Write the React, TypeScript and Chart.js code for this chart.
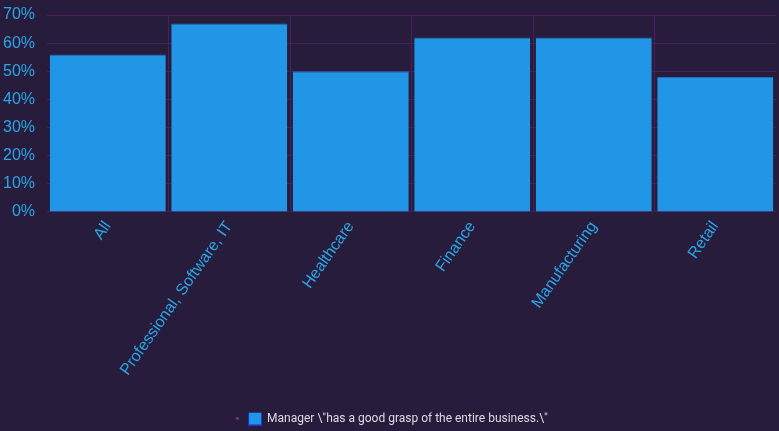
import React, { useEffect, useRef } from "react";
import { Chart, registerables } from "chart.js";

Chart.register(...registerables);

const categories = ["All", "Professional, Software, IT", "Healthcare", "Finance", "Manufacturing", "Retail"];
const values = [56, 67, 50, 62, 62, 48];
const seriesLabel = 'Manager \\"has a good grasp of the entire business.\\"';
const yTicks = [0, 10, 20, 30, 40, 50, 60, 70];

const gridColor = "#4a1f5c";

function makeBox(size: number, fill: string, stroke: string) {
  const c = document.createElement("canvas");
  c.width = size;
  c.height = size;
  const g = c.getContext("2d")!;
  g.fillStyle = stroke;
  g.fillRect(0, 0, size, size);
  g.fillStyle = fill;
  g.fillRect(1, 1, size - 2, size - 2);
  return c;
}

function makeDot() {
  const c = document.createElement("canvas");
  c.width = 3;
  c.height = 3;
  const g = c.getContext("2d")!;
  g.fillStyle = "rgba(150,60,150,0.5)";
  g.fillRect(0, 0, 3, 3);
  g.fillStyle = "#9a3c9a";
  g.fillRect(1, 1, 1, 1);
  return c;
}

const legendShift = {
  id: "legendShift",
  afterLayout(chart: any) {
    const lg = chart.legend;
    if (lg) {
      lg.top += 3.5;
      lg.bottom += 3.5;
    }
  },
};

export default function App() {
  const ref = useRef<HTMLCanvasElement>(null);
  useEffect(() => {
    document.body.style.margin = "0";
    const ctx = ref.current!;
    const boxImg = makeBox(14, "#2196e6", "#1c2fcf");
    const dotImg = makeDot();
    const chart = new Chart(ctx, {
      type: "bar",
      plugins: [legendShift],
      data: {
        labels: categories,
        datasets: [
          {
            label: seriesLabel,
            data: values,
            backgroundColor: "#2196e6",
            borderColor: "#1f6fb3",
            borderWidth: { top: 1, left: 0, right: 0, bottom: 1 } as any,
            barPercentage: 0.955,
            categoryPercentage: 1,
          },
        ],
      },
      options: {
        animation: false,
        responsive: false,
        maintainAspectRatio: false,
        layout: { padding: { top: 15, right: 3, bottom: 0, left: 3 } },
        plugins: {
          legend: {
            position: "bottom",
            onClick: () => {},
            labels: {
              color: "#dedbe6",
              font: { family: "Roboto", size: 12 },
              boxWidth: 12,
              boxHeight: 12,
              padding: 0,
              usePointStyle: true,
              generateLabels: () => [
                { text: "", pointStyle: dotImg as any, fillStyle: "transparent", strokeStyle: "transparent", lineWidth: 0, hidden: false, datasetIndex: -1 } as any,
                { text: seriesLabel, pointStyle: boxImg as any, fillStyle: "#2196e6", strokeStyle: "#1c2fcf", lineWidth: 0, hidden: false, datasetIndex: 0, fontColor: "#dedbe6" } as any,
              ],
            },
          },
          tooltip: { enabled: false },
        },
        scales: {
          x: {
            grid: {
              color: (c: any) => (c.type !== "tick" || c.index === 0 ? "transparent" : gridColor),
              drawTicks: false,
            },
            border: { display: false },
            afterFit: (axis: any) => {
              axis.height += 24;
            },
            ticks: {
              color: "#29a6e6",
              font: { family: "Liberation Sans", size: 16 },
              maxRotation: 55,
              minRotation: 55,
              padding: 6,
            },
          },
          y: {
            min: 0,
            max: 70,
            afterBuildTicks: (axis: any) => {
              axis.ticks = yTicks.map((v) => ({ value: v }));
            },
            grid: { color: gridColor, drawTicks: true, tickLength: 12, tickColor: "transparent" },
            border: { display: false },
            ticks: {
              color: "#29a6e6",
              font: { family: "Liberation Sans", size: 16 },
              callback: (v: any) => v + "%",
              padding: 0,
            },
          },
        },
      },
    });
    return () => chart.destroy();
  }, []);
  return (
    <div style={{ width: 779, height: 431, background: "#281c3c" }}>
      <canvas ref={ref} width={779} height={431} />
    </div>
  );
}
